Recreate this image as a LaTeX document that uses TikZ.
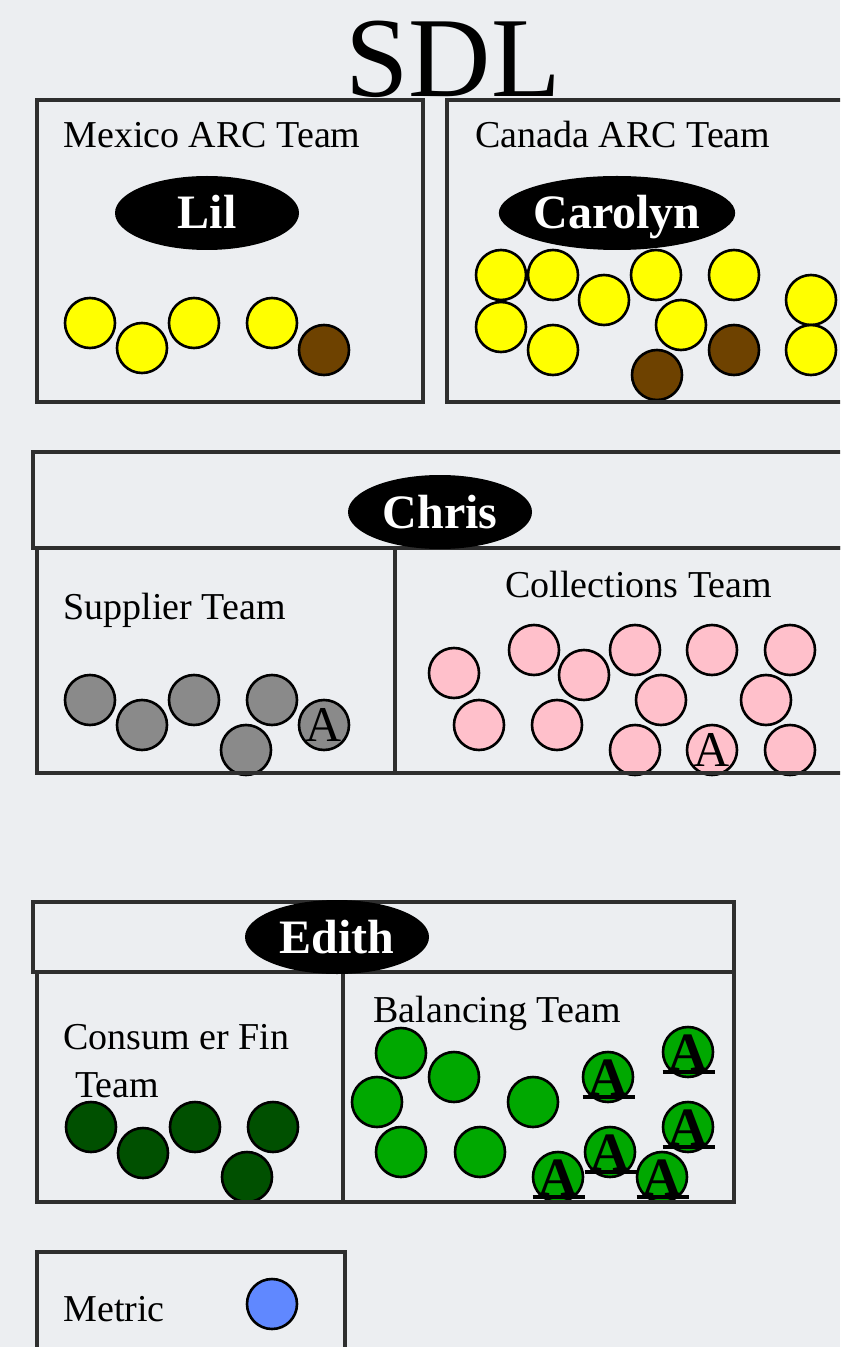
\documentclass[tikz,border=0pt]{standalone}
\usepackage{fontspec}
\setmainfont{Liberation Serif}
\usetikzlibrary{shapes.geometric}
\definecolor{paper}{HTML}{ECEEF1}
\definecolor{edge}{HTML}{2E2E2E}
\definecolor{gold}{HTML}{FFFF00}
\definecolor{rust}{HTML}{6E4200}
\definecolor{stone}{HTML}{8A8A8A}
\definecolor{rose}{HTML}{FFC0CB}
\definecolor{forest}{HTML}{005000}
\definecolor{leaf}{HTML}{00A800}
\definecolor{metricblue}{HTML}{6088FF}
\newcommand{\underA}{\makebox[0pt][l]{\kern-3pt\rule[-2pt]{26pt}{2pt}}\textbf{A}}
\tikzset{
  ball/.style={circle, draw=black, line width=1.3pt, minimum size=25pt, inner sep=0pt},
  boss/.style={ellipse, fill=black, text=white, inner sep=0pt,
    minimum width=92pt, minimum height=37pt,
    font=\bfseries\fontsize{24}{24}\selectfont, text height=16pt, text depth=0pt},
  team/.style={anchor=base west, inner sep=0pt, font=\fontsize{19}{19}\selectfont},
  frame/.style={draw=edge, line width=1.6pt},
  plainA/.style={label={[inner sep=0pt, font=\fontsize{25}{25}\selectfont, text height=16.5pt, text depth=0pt]center:A}},
  boldA/.style={label={[inner sep=0pt, font=\fontsize{27}{27}\selectfont, text height=18pt, text depth=0pt]center:\underA}}
}
\begin{document}
\begin{tikzpicture}[x=0.5pt,y=-0.5pt]
  \fill[paper] (0,0) rectangle (840,1347);
  \useasboundingbox (0,0) rectangle (840,1347);
  \clip (0,0) rectangle (840,1347);

  \node[anchor=base, inner sep=0pt, font=\fontsize{57}{57}\selectfont] (title) at (453,97) {SDL};

  \foreach \x/\y [count=\i] in {90/323,142/348,194/323,272/323}
    \node[ball, fill=gold] (mx\i) at (\x,\y) {};
  \node[ball, fill=rust] (mx5) at (324,350) {};
  \foreach \x/\y [count=\i] in {501/275,553/275,604/300,656/275,734/275,811/300,501/327,553/350,681/325,811/350}
    \node[ball, fill=gold] (ca\i) at (\x,\y) {};
  \foreach \x/\y [count=\i] in {657/375,734/350}
    \node[ball, fill=rust] (cab\i) at (\x,\y) {};

  \foreach \x/\y [count=\i] in {90/700,142/725,194/700,272/700,246/750}
    \node[ball, fill=stone] (su\i) at (\x,\y) {};
  \node[ball, fill=stone, plainA] (su6) at (324,725) {};
  \foreach \x/\y [count=\i] in {454/673,534/650,584/675,635/650,712/650,790/650,479/725,557/725,661/700,766/700,635/750,790/750}
    \node[ball, fill=rose] (co\i) at (\x,\y) {};
  \node[ball, fill=rose, plainA] (co13) at (712,750) {};

  \foreach \x/\y [count=\i] in {91/1127,143/1153,195/1127,273/1127,247/1177}
    \node[ball, fill=forest] (cf\i) at (\x,\y) {};
  \foreach \x/\y [count=\i] in {401/1053,454/1077,377/1102,533/1102,401/1152,480/1152}
    \node[ball, fill=leaf] (ba\i) at (\x,\y) {};
  \foreach \x/\y [count=\i] in {608/1077,688/1052,688/1127,610/1152,558/1177,662/1177}
    \node[ball, fill=leaf, boldA] (baa\i) at (\x,\y) {};

  \node[ball, fill=metricblue] (dot) at (272,1304) {};

  \draw[frame] (37,100) rectangle (423,402);
  \draw[frame] (447,100) rectangle (860,402);
  \draw[frame] (33,452) rectangle (860,548);
  \draw[frame] (37,548) rectangle (860,773);
  \draw[frame] (395,548) -- (395,773);
  \draw[frame] (33,902) rectangle (734,972);
  \draw[frame] (37,972) rectangle (734,1202);
  \draw[frame] (343,972) -- (343,1202);
  \draw[frame] (37,1252) rectangle (345,1370);

  \node[boss] (lil) at (207,213) {Lil};
  \node[boss] (carolyn) at (617,213) {Carolyn};
  \node[boss] (chris) at (440,512) {Chris};
  \node[boss] (edith) at (337,937) {Edith};

  \node[team] (mexico) at (63,148) {Mexico ARC Team};
  \node[team] (canada) at (475,148) {Canada ARC Team};
  \node[team] (supplier) at (63,619) {Supplier Team};
  \node[team] (collections) at (505,597) {Collections Team};
  \node[team] (consumer) at (63,1049) {Consum er Fin};
  \node[team] (consumerteam) at (75,1097) {Team};
  \node[team] (balancing) at (373,1022) {Balancing Team};
  \node[team] (metric) at (63,1321) {Metric};
\end{tikzpicture}
\end{document}
